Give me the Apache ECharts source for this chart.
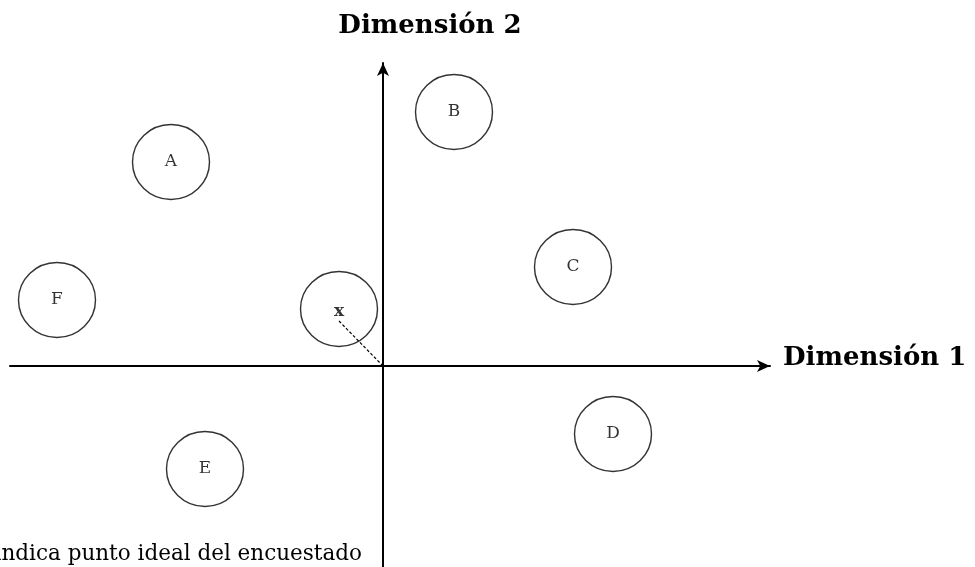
<!DOCTYPE html>
<html>
<head>
<meta charset="utf-8">
<script src="https://cdn.jsdelivr.net/npm/echarts@6/dist/echarts.min.js"></script>
<style>
  html, body { margin: 0; padding: 0; background: #fff; }
  #chart { width: 975px; height: 567px; }
</style>
</head>
<body>
<div id="chart"></div>
<script>
// brands on the perceptual map (dimension 1, dimension 2)
const brands = ['A', 'B', 'C', 'D', 'E', 'F'];
const dim1 = [-4.24, 1.42, 3.8, 4.6, -3.56, -6.52];
const dim2 = [4.08, 5.08, 1.98, -1.36, -2.06, 1.32];

// ideal point of the respondent
const idealLabel = 'x';
const ideal = [-0.88, 1.14];
const idealLink = [[-0.88, 0.9], [0, 0]];

const axisNames = ['Dimensión 1', 'Dimensión 2'];
const note = 'indica punto ideal del encuestado';

const serif = 'DejaVu Serif';

const chartDom = document.getElementById('chart');
const myChart = echarts.init(chartDom);

const axisCommon = {
    type: 'value',
    axisTick: { show: false },
    axisLabel: { show: false },
    splitLine: { show: false },
    axisLine: {
        onZero: true,
        symbol: ['none', 'arrow'],
        symbolSize: [9, 13],
        lineStyle: { color: '#000', width: 2 }
    }
};

const option = {
    backgroundColor: '#fff',
    animation: false,
    title: {
        text: axisNames[1],
        left: 425,
        top: 8,
        textAlign: 'center',
        textStyle: { fontFamily: serif, fontWeight: 'bold', fontSize: 26, color: '#000' }
    },
    grid: { left: 10, right: 205, top: 63, bottom: 0 },
    xAxis: Object.assign({}, axisCommon, {
        min: -7.46, max: 7.74,
        name: axisNames[0],
        nameLocation: 'end',
        nameGap: 13,
        nameTextStyle: { fontFamily: serif, fontWeight: 'bold', fontSize: 26, color: '#000', verticalAlign: 'bottom', lineHeight: 16 }
    }),
    yAxis: Object.assign({}, axisCommon, {
        min: -4.02, max: 6.06
    }),
    graphic: [{
        type: 'text',
        right: 975 - 362,
        top: 543,
        style: { text: note, fontFamily: serif, fontSize: 21.5, fill: '#000' }
    }],
    series: [
        {
            type: 'scatter',
            symbol: 'circle',
            symbolSize: [77, 75],
            itemStyle: { color: 'rgba(0,0,0,0)', borderColor: '#000', borderWidth: 1.4 },
            label: { show: true, position: 'inside', formatter: p => p.name, fontFamily: serif, fontSize: 17, color: '#000' },
            data: brands.map((b, i) => ({ name: b, value: [dim1[i], dim2[i]] })),
            z: 3
        },
        {
            type: 'scatter',
            symbol: 'circle',
            symbolSize: [77, 75],
            itemStyle: { color: 'rgba(0,0,0,0)', borderColor: '#000', borderWidth: 1.4 },
            label: { show: true, position: 'inside', formatter: idealLabel, fontFamily: serif, fontWeight: 'bold', fontSize: 17, color: '#000', offset: [0, 3] },
            data: [{ name: idealLabel, value: ideal }],
            z: 3
        },
        {
            type: 'line',
            symbol: 'none',
            lineStyle: { color: '#000', width: 1.2, type: [3, 2] },
            data: idealLink,
            z: 2
        }
    ]
};

option && myChart.setOption(option);
</script>
</body>
</html>
